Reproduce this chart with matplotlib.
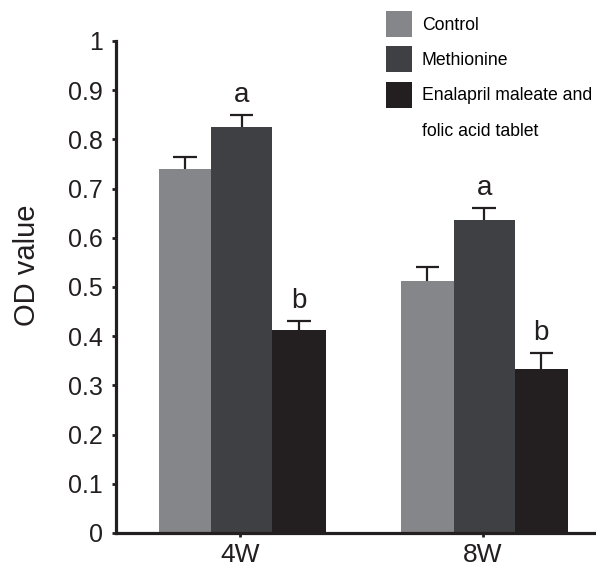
import matplotlib
matplotlib.use("Agg")
import matplotlib.pyplot as plt
import numpy as np
from matplotlib.patches import Patch

# data
groups = ["4W", "8W"]
series = ["Control", "Methionine", "Enalapril maleate and", "folic acid tablet"]
control = [0.740, 0.512]
methionine = [0.825, 0.636]
enalapril = [0.412, 0.333]
control_err = [0.024, 0.029]
methionine_err = [0.025, 0.025]
enalapril_err = [0.018, 0.032]
letters_meth = ["a", "a"]
letters_enal = ["b", "b"]

plt.rcParams['font.family'] = ['Liberation Sans', 'DejaVu Sans']

fig = plt.figure(figsize=(5.96, 5.69), dpi=100)
ax = fig.add_axes([115.7 / 596, 36 / 569, 1 - 115.7 / 596, (533 - 41) / 569])

x = np.arange(len(groups))
colors = ["#858689", "#3f4043", "#231f20"]
# bar left edges and widths (relative to group tick)
lefts = [-0.337, -0.120, 0.131]
widths = [0.217, 0.251, 0.221]
vals = [control, methionine, enalapril]
errs = [control_err, methionine_err, enalapril_err]

ecol = "#231f20"
cap_half = 0.048
for i in range(3):
    ax.bar(x + lefts[i], vals[i], width=widths[i], align='edge',
           color=colors[i], edgecolor='none', zorder=2)
    centers = x + lefts[i] + widths[i] / 2
    tops = np.array(vals[i]) + np.array(errs[i])
    # upper error only
    ax.vlines(centers, vals[i], tops, color=ecol, linewidth=1.6, zorder=3)
    ax.hlines(tops, centers - cap_half, centers + cap_half, color=ecol,
              linewidth=1.6, zorder=3)

for lets, v, e, i in [(letters_meth, methionine, methionine_err, 1),
                      (letters_enal, enalapril, enalapril_err, 2)]:
    for k in range(len(x)):
        ax.annotate(lets[k], (x[k] + lefts[i] + widths[i] / 2, v[k] + e[k]),
                    xytext=(0, 5), textcoords='offset points',
                    ha='center', va='bottom', fontsize=20, color='#231f20')

ax.set_xlim(-0.514, 1.467)
ax.set_ylim(0, 1)
ax.set_yticks(np.arange(0, 1.01, 0.1))
ax.set_yticklabels(["0", "0.1", "0.2", "0.3", "0.4", "0.5", "0.6", "0.7",
                    "0.8", "0.9", "1"])
ax.set_xticks(x)
ax.set_xticklabels(groups)

for s in ["top", "right"]:
    ax.spines[s].set_visible(False)
for s in ["left", "bottom"]:
    ax.spines[s].set_linewidth(2.3)
    ax.spines[s].set_color("#231f20")

ax.tick_params(axis='y', direction='out', length=3, width=2, pad=6,
               labelsize=18, colors='#231f20')
ax.tick_params(axis='x', direction='out', length=3, width=2, pad=4,
               labelsize=19, colors='#231f20')
ax.set_ylabel("OD value", fontsize=21, color='#231f20', labelpad=20, y=0.545)

handles = [Patch(facecolor=c, edgecolor='none') for c in colors]
handles.append(Patch(facecolor='none', edgecolor='none'))
fig.legend(handles, series, loc='upper left',
           bbox_to_anchor=(386 / 596, 1 - 11 / 569), frameon=False,
           fontsize=12.7, handlelength=1.47, handleheight=1.9,
           handletextpad=0.55, labelspacing=0.52, borderpad=0,
           borderaxespad=0)

fig.savefig("out.png", dpi=100)
